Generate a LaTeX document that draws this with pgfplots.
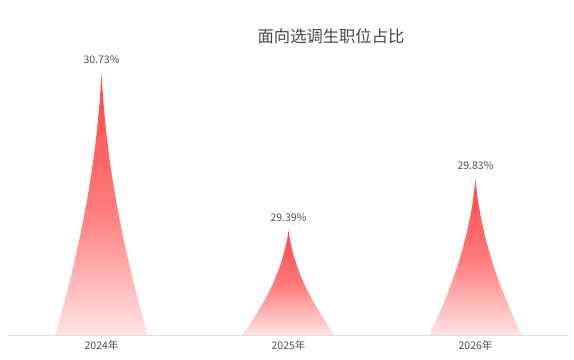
\documentclass[border=0pt]{standalone}
\usepackage{pgfplots}
\pgfplotsset{compat=1.18}
\usepackage{pgfplotstable}
\usepackage{fontspec}
\setmainfont{Noto Sans CJK SC}
\definecolor{spiketop}{HTML}{FF4646}
\definecolor{spikemid}{HTML}{FF7878}
\definecolor{spikebot}{HTML}{FFE3E3}
\definecolor{txt}{HTML}{505050}
\definecolor{titlec}{HTML}{464646}
\definecolor{axisgray}{HTML}{E0E0E0}
\pgfplotstableread{
x v
0 30.73
1 29.39
2 29.83
}\datatable
\pgfdeclareplotmark{spike}{%
  \pgfmathsetmacro{\hh}{(\vv-28.5)*117.5}%
  \pgfmathsetmacro{\ha}{0.4*\hh}%
  \pgfmathsetmacro{\hb}{0.72*\hh}%
  \shade[draw=none, top color=spiketop, bottom color=spikebot, middle color=spikemid]
    (0bp,0bp) .. controls (5.5bp,-\ha bp) and (25.4bp,-\hb bp) .. (46.2bp,-\hh bp)
    -- (-46.2bp,-\hh bp) .. controls (-25.4bp,-\hb bp) and (-5.5bp,-\ha bp) .. cycle;
}
\begin{document}
\begin{tikzpicture}
\path[use as bounding box] (0bp,0bp) rectangle (574bp,360bp);
\node[font=\fontsize{16.3bp}{19bp}\selectfont, text=titlec, inner sep=0pt] at (331bp,324bp) {面向选调生职位占比};
\begin{axis}[
  at={(8bp,25bp)}, anchor=south west,
  x=187bp, y=117.5bp,
  xmin=-0.5, xmax=2.5, ymin=28.5, ymax=31,
  axis x line=bottom, axis y line=none,
  x axis line style={draw=axisgray, line width=1bp, -},
  xtick={0,1,2}, xticklabels={2024年,2025年,2026年},
  major tick length=0pt,
  ytick=\empty,
  xticklabel style={font=\fontsize{10.5bp}{12bp}\selectfont, text=txt, yshift=-2bp},
  clip=false,
  /pgf/number format/assume math mode=true,
]
\addplot[
  only marks, mark=spike,
  mark options={draw=none},
  point meta=explicit,
  visualization depends on={\thisrow{v} \as \vv},
  nodes near coords={\pgfmathprintnumber[fixed,fixed zerofill,precision=2,assume math mode=true]{\pgfplotspointmeta}\%},
  every node near coord/.append style={font=\fontsize{10.5bp}{12bp}\selectfont, text=txt, yshift=5.5bp},
] table[x=x, y=v, meta=v] {\datatable};
\end{axis}
\end{tikzpicture}
\end{document}
